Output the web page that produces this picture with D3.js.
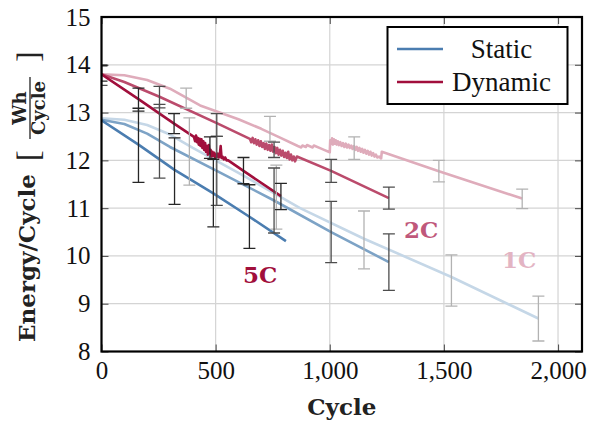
<!DOCTYPE html>
<html><head><meta charset="utf-8">
<script src="https://cdn.jsdelivr.net/npm/d3@7"></script>
<style>
html,body{margin:0;padding:0;background:#fff;}
svg{display:block;}
</style></head>
<body>
<svg id="chart" width="590" height="424"></svg>
<script>
// ---------- data ----------
const xTicks = [0, 500, 1000, 1500, 2000];
const yTicks = [8, 9, 10, 11, 12, 13, 14, 15];
const seriesNames = ["Static", "Dynamic"];
const rateLabels = ["5C", "2C", "1C"];

// line data: [cycle, Wh/cycle]
const static5C = [[0,12.84],[162,12.33],[320,11.80],[490,11.31],[648,10.82],[808,10.31]];
const static2C = [[0,12.85],[100,12.76],[200,12.56],[300,12.28],[505,11.78],[756,11.16],[1006,10.50],[1259,9.87]];
const static1C = [[0,12.88],[100,12.85],[200,12.74],[300,12.54],[400,12.26],[600,11.74],[870,11.00],[1150,10.36],[1533,9.56],[1914,8.69]];
const dynamic5C = [[0,13.80],[162,13.28],[318,12.77],[405,12.49],[410,12.40],[414,12.52],[418,12.38],[422,12.47],[426,12.33],[430,12.45],[434,12.30],[438,12.44],[442,12.26],[446,12.40],[450,12.22],[454,12.36],[458,12.18],[462,12.30],[466,12.12],[470,12.32],[474,12.15],[478,12.22],[482,12.08],[486,12.18],[490,12.10],[494,12.16],[498,12.05],[502,12.12],[506,12.08],[510,12.14],[514,12.06],[518,12.10],[522,12.30],[526,12.05],[530,12.08],[536,12.02],[542,12.06],[548,12.00],[555,12.00],[622,11.78],[786,11.25]];
const dynamic2C = [[0,13.80],[100,13.64],[254,13.33],[505,12.78],[650,12.45],[656,12.38],[662,12.47],[668,12.36],[674,12.44],[680,12.33],[686,12.42],[692,12.30],[698,12.40],[704,12.28],[710,12.36],[716,12.24],[722,12.35],[728,12.22],[734,12.32],[740,12.20],[746,12.33],[752,12.18],[758,12.28],[764,12.15],[770,12.26],[776,12.12],[782,12.22],[788,12.10],[794,12.20],[800,12.07],[806,12.16],[812,12.05],[818,12.18],[824,12.02],[830,12.12],[836,12.00],[842,12.08],[848,11.98],[856,12.08],[1006,11.78],[1259,11.21]];
const dynamic1C = [[0,13.80],[100,13.78],[200,13.68],[300,13.50],[432,13.15],[600,12.86],[700,12.66],[780,12.48],[860,12.30],[875,12.27],[880,12.31],[895,12.28],[900,12.32],[925,12.27],[930,12.31],[960,12.25],[975,12.22],[1000,12.17],[1002,12.42],[1006,12.34],[1010,12.46],[1014,12.33],[1018,12.44],[1022,12.35],[1026,12.42],[1030,12.33],[1035,12.40],[1040,12.32],[1046,12.38],[1052,12.30],[1058,12.36],[1064,12.28],[1070,12.35],[1076,12.27],[1082,12.33],[1088,12.26],[1094,12.31],[1100,12.24],[1106,12.30],[1112,12.22],[1118,12.28],[1124,12.20],[1130,12.26],[1136,12.18],[1142,12.24],[1148,12.16],[1154,12.22],[1160,12.14],[1166,12.20],[1172,12.12],[1178,12.18],[1184,12.10],[1190,12.15],[1196,12.08],[1202,12.12],[1208,12.06],[1216,12.08],[1225,12.04],[1228,12.18],[1478,11.77],[1843,11.20]];

// error bars: [cycle, low, high]
const static5CErr = [[162,11.54,13.09],[320,11.08,12.47],[490,10.61,12.02],[648,10.16,11.49]];
const dynamic5CErr = [[0,13.66,13.98],[162,13.03,13.51],[318,12.56,12.98],[475,12.04,12.49],[622,11.51,12.06],[786,10.97,11.52]];
const static2CErr = [[254,11.63,13.17],[505,11.06,12.50],[756,10.48,11.84],[1006,9.86,11.14],[1259,9.28,10.46]];
const dynamic2CErr = [[0,13.57,14.00],[254,13.10,13.55],[505,12.50,12.98],[756,12.06,12.38],[1006,11.54,12.02],[1259,10.98,11.44]];
const static1CErr = [[385,11.48,12.89],[766,10.56,11.90],[1150,9.73,10.94],[1533,8.95,10.02],[1914,8.22,9.16]];
const dynamic1CErr = [[371,13.09,13.51],[738,12.40,12.92],[1107,12.02,12.49],[1478,11.55,12.00],[1843,10.99,11.40]];

// ---------- layout ----------
const L = 101.5, R = 582, T = 17, B = 351.5;
const x = d3.scaleLinear().domain([0, 2105]).range([L, R]);
const y = d3.scaleLinear().domain([8, 15]).range([B, T]);

const svg = d3.select("#chart");
const serif = "'Liberation Serif', 'Times New Roman', serif";
const boldSerif = "'DejaVu Serif', serif";

svg.append("defs").append("clipPath").attr("id", "plotclip")
  .append("rect").attr("x", L).attr("y", T).attr("width", R - L).attr("height", B - T);

// grid
const grid = svg.append("g");
grid.selectAll(".gx").data(xTicks).join("line")
  .attr("x1", d => x(d)).attr("x2", d => x(d)).attr("y1", T).attr("y2", B)
  .attr("stroke", "#d4d4d4").attr("stroke-width", 1.2);
grid.selectAll(".gy").data(yTicks).join("line")
  .attr("x1", L).attr("x2", R).attr("y1", d => y(d)).attr("y2", d => y(d))
  .attr("stroke", "#d4d4d4").attr("stroke-width", 1.2);

// axes (inward ticks)
const axB = svg.append("g").attr("transform", `translate(0,${B})`)
  .call(d3.axisBottom(x).tickValues(xTicks).tickFormat(d3.format(",")).tickSizeInner(-7).tickSizeOuter(0).tickPadding(10));
const axL = svg.append("g").attr("transform", `translate(${L},0)`)
  .call(d3.axisLeft(y).tickValues(yTicks).tickFormat(d3.format("d")).tickSizeInner(-7).tickSizeOuter(0).tickPadding(11));
const axR = svg.append("g").attr("transform", `translate(${R},0)`)
  .call(d3.axisRight(y).tickValues(yTicks).tickFormat("").tickSizeInner(-7).tickSizeOuter(0));
const axT = svg.append("g").attr("transform", `translate(0,${T})`)
  .call(d3.axisTop(x).tickValues(xTicks).tickFormat("").tickSizeInner(-7).tickSizeOuter(0));
[axB, axL, axR, axT].forEach(a => {
  a.select(".domain").remove();
  a.selectAll(".tick line").attr("stroke", "#555").attr("stroke-width", 1.1);
  a.selectAll(".tick text").attr("font-family", serif).attr("font-size", 25).attr("fill", "#111");
});

// plot content
const plot = svg.append("g").attr("clip-path", "url(#plotclip)");
const line = d3.line().x(d => x(d[0])).y(d => y(d[1]));

const series = [
  {data: static1C, err: static1CErr, color: "#c5d7e7", ecolor: "#b2b2b2"},
  {data: dynamic1C, err: dynamic1CErr, color: "#dfacbb", ecolor: "#b2b2b2"},
  {data: static2C, err: static2CErr, color: "#7da3c6", ecolor: "#4d4d4d"},
  {data: dynamic2C, err: dynamic2CErr, color: "#bb4b6c", ecolor: "#4d4d4d"},
  {data: static5C, err: static5CErr, color: "#4b7db0", ecolor: "#262626"},
  {data: dynamic5C, err: dynamic5CErr, color: "#a10f3c", ecolor: "#262626"}
];
series.forEach(s => {
  plot.append("path").datum(s.data).attr("d", line)
    .attr("fill", "none").attr("stroke", s.color).attr("stroke-width", 2.6)
    .attr("stroke-linejoin", "round");
});
series.forEach(s => {
  const g = plot.append("g").attr("stroke", s.ecolor).attr("stroke-width", 1.3);
  s.err.forEach(e => {
    const cx = x(e[0]);
    g.append("line").attr("x1", cx).attr("x2", cx).attr("y1", y(e[1])).attr("y2", y(e[2]));
    g.append("line").attr("x1", cx - 6).attr("x2", cx + 6).attr("y1", y(e[1])).attr("y2", y(e[1]));
    g.append("line").attr("x1", cx - 6).attr("x2", cx + 6).attr("y1", y(e[2])).attr("y2", y(e[2]));
  });
});

// rate labels
const rateLabelPos = [[695, 9.43, "#a10f3c"], [1400, 10.37, "#c0587b"], [1830, 9.74, "#e3b4c3"]];
rateLabels.forEach((t, i) => {
  svg.append("text").attr("x", x(rateLabelPos[i][0])).attr("y", y(rateLabelPos[i][1]))
    .attr("text-anchor", "middle").attr("font-family", boldSerif).attr("font-weight", "bold")
    .attr("font-size", 23).attr("fill", rateLabelPos[i][2]).text(t);
});

// frame
svg.append("rect").attr("x", L).attr("y", T).attr("width", R - L).attr("height", B - T)
  .attr("fill", "none").attr("stroke", "#000").attr("stroke-width", 2.2);

// legend
const lg = svg.append("g");
lg.append("rect").attr("x", 387.5).attr("y", 27).attr("width", 180).attr("height", 77)
  .attr("fill", "#fff").attr("stroke", "#000").attr("stroke-width", 2);
const legColors = ["#4b7db0", "#a10f3c"];
seriesNames.forEach((n, i) => {
  const ly = 49 + i * 33;
  lg.append("line").attr("x1", 397).attr("x2", 443).attr("y1", ly).attr("y2", ly)
    .attr("stroke", legColors[i]).attr("stroke-width", 2.6);
  lg.append("text").attr("x", 501.5).attr("y", ly + 9).attr("text-anchor", "middle")
    .attr("font-family", serif).attr("font-size", 27).attr("fill", "#111").text(n);
});

// x axis title
svg.append("text").attr("x", (L + R) / 2).attr("y", 415).attr("text-anchor", "middle")
  .attr("font-family", boldSerif).attr("font-weight", "bold").attr("font-size", 23)
  .attr("fill", "#222").text("Cycle");

// y axis title (rotated)
const yl = svg.append("g").attr("transform", "translate(35,342) rotate(-90)")
  .attr("font-family", boldSerif).attr("font-weight", "bold").attr("fill", "#222");
yl.append("text").attr("x", 0).attr("y", 0).attr("font-size", 23).text("Energy/Cycle");
yl.append("text").attr("x", 181).attr("y", 4).attr("font-size", 32).attr("font-weight", "normal")
  .attr("font-family", serif).text("[");
yl.append("text").attr("x", 234).attr("y", -9).attr("text-anchor", "middle").attr("font-size", 18).text("Wh");
yl.append("line").attr("x1", 203).attr("x2", 265).attr("y1", -5).attr("y2", -5).attr("stroke", "#222").attr("stroke-width", 1.3);
yl.append("text").attr("x", 234).attr("y", 10).attr("text-anchor", "middle").attr("font-size", 18).text("Cycle");
yl.append("text").attr("x", 280).attr("y", 4).attr("font-size", 32).attr("font-weight", "normal")
  .attr("font-family", serif).text("]");
</script>
</body></html>
